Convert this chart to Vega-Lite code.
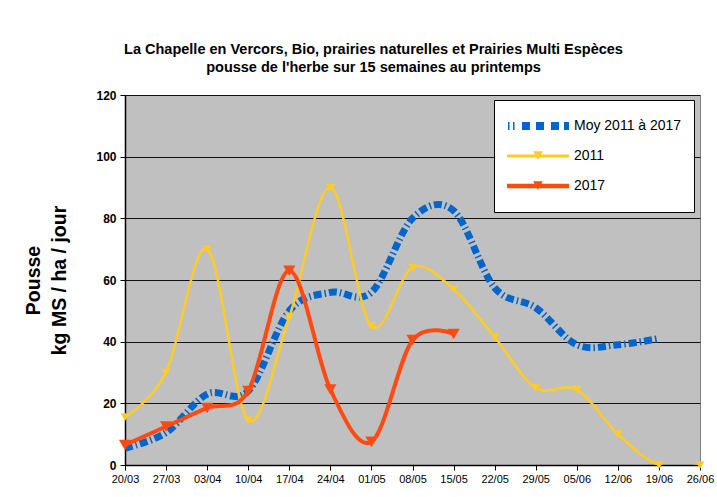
{
  "$schema": "https://vega.github.io/schema/vega-lite/v6.json",
  "width": 575,
  "height": 370,
  "autosize": {"type": "none"},
  "padding": {"left": 125, "top": 95, "right": 17, "bottom": 32},
  "background": "white",
  "title": {
    "text": ["La Chapelle en Vercors, Bio, prairies naturelles et Prairies Multi Espèces", "pousse de l'herbe sur 15 semaines au printemps"],
    "font": "Liberation Sans",
    "fontSize": 14.5,
    "fontWeight": "bold",
    "lineHeight": 18,
    "anchor": "middle",
    "dx": -39,
    "offset": 14,
    "color": "black"
  },
  "config": {
    "view": {"fill": "#C0C0C0", "stroke": "#808080", "strokeWidth": 1},
    "font": "Liberation Sans",
    "axis": {"domainColor": "black", "tickColor": "black", "labelColor": "black", "titleColor": "black"}
  },
  "data": {
    "values": [
      {"d": "20/03", "s": "Moy 2011 à 2017", "v": 5.5},
      {"d": "27/03", "s": "Moy 2011 à 2017", "v": 10.5},
      {"d": "03/04", "s": "Moy 2011 à 2017", "v": 23},
      {"d": "10/04", "s": "Moy 2011 à 2017", "v": 24},
      {"d": "17/04", "s": "Moy 2011 à 2017", "v": 50},
      {"d": "24/04", "s": "Moy 2011 à 2017", "v": 56},
      {"d": "01/05", "s": "Moy 2011 à 2017", "v": 56},
      {"d": "08/05", "s": "Moy 2011 à 2017", "v": 80},
      {"d": "15/05", "s": "Moy 2011 à 2017", "v": 82.5},
      {"d": "22/05", "s": "Moy 2011 à 2017", "v": 57.5},
      {"d": "29/05", "s": "Moy 2011 à 2017", "v": 51},
      {"d": "05/06", "s": "Moy 2011 à 2017", "v": 39},
      {"d": "12/06", "s": "Moy 2011 à 2017", "v": 39},
      {"d": "19/06", "s": "Moy 2011 à 2017", "v": 41},
      {"d": "20/03", "s": "2011", "v": 15.5},
      {"d": "27/03", "s": "2011", "v": 30},
      {"d": "03/04", "s": "2011", "v": 70},
      {"d": "10/04", "s": "2011", "v": 14.5},
      {"d": "17/04", "s": "2011", "v": 48},
      {"d": "24/04", "s": "2011", "v": 90},
      {"d": "01/05", "s": "2011", "v": 45},
      {"d": "08/05", "s": "2011", "v": 64},
      {"d": "15/05", "s": "2011", "v": 57},
      {"d": "22/05", "s": "2011", "v": 41.5},
      {"d": "29/05", "s": "2011", "v": 25},
      {"d": "05/06", "s": "2011", "v": 24.5},
      {"d": "12/06", "s": "2011", "v": 10},
      {"d": "19/06", "s": "2011", "v": 0},
      {"d": "26/06", "s": "2011", "v": 0},
      {"d": "20/03", "s": "2017", "v": 6.5},
      {"d": "27/03", "s": "2017", "v": 12.5},
      {"d": "03/04", "s": "2017", "v": 18.5},
      {"d": "10/04", "s": "2017", "v": 24},
      {"d": "17/04", "s": "2017", "v": 63},
      {"d": "24/04", "s": "2017", "v": 24.5},
      {"d": "01/05", "s": "2017", "v": 7.5},
      {"d": "08/05", "s": "2017", "v": 40.5},
      {"d": "15/05", "s": "2017", "v": 42.5}
    ]
  },
  "encoding": {
    "x": {
      "field": "d", "type": "ordinal",
      "scale": {"type": "point", "padding": 0, "domain": ["20/03","27/03","03/04","10/04","17/04","24/04","01/05","08/05","15/05","22/05","29/05","05/06","12/06","19/06","26/06"]},
      "axis": {"title": null, "labelAngle": 0, "labelFontSize": 11, "labelPadding": 3, "tickSize": 5, "grid": false, "domainWidth": 1.5}
    },
    "y": {
      "field": "v", "type": "quantitative",
      "scale": {"domain": [0, 120], "nice": false},
      "axis": {
        "title": ["Pousse", "kg MS / ha / jour"],
        "titleFontSize": 19.5, "titleFontWeight": "bold", "titleLineHeight": 26, "titlePadding": 26,
        "values": [0, 20, 40, 60, 80, 100, 120],
        "labelFontSize": 12, "labelFontWeight": "bold", "labelPadding": 4, "tickSize": 5,
        "grid": true, "gridColor": "#111111", "gridWidth": 1, "domainWidth": 1.5
      }
    },
    "color": {
      "field": "s", "type": "nominal",
      "scale": {"domain": ["Moy 2011 à 2017", "2011", "2017"], "range": ["#0066CC", "#FFCC22", "#FF4A12"]},
      "legend": {
        "title": " ", "titleFontSize": 1, "titlePadding": 6,
        "orient": "none", "legendX": 369, "legendY": 5,
        "strokeColor": "black", "fillColor": "white",
        "padding": 12, "rowPadding": 2,
        "labelFontSize": 14, "labelColor": "black", "labelFont": "Liberation Sans",
        "symbolSize": 144, "labelOffset": 54,
        "symbolStrokeWidth": 0, "symbolStrokeColor": "transparent", "symbolDash": [],
        "encode": {
          "symbols": {
            "update": {
              "shape": {"signal": "datum.value === '2011' ? 'M0,-2.17M0,2.17M-1,-0.25H9.33V0.25H-1Z M3.37,-0.8H4.97L4.17,0.65Z' : datum.value === '2017' ? 'M0,-2.17M0,2.17M-1,-0.37H9.33V0.37H-1Z M3.37,-0.8H4.97L4.17,0.65Z' : 'M0,-2.17M0,2.17M-0.83,-0.67H-0.58V0.67H-0.83Z M0,-0.67H0.25V0.67H0Z M1.5,-0.67H2.83V0.67H1.5Z M3.83,-0.67H5.17V0.67H3.83Z M6.33,-0.67H7.67V0.67H6.33Z M8.5,-0.67H9.33V0.67H8.5Z'"},
              "fill": {"signal": "datum.value === '2011' ? '#FFCC22' : datum.value === '2017' ? '#FF4A12' : '#0066CC'"},
              "stroke": {"value": "transparent"},
              "strokeWidth": {"value": 0},
              "opacity": {"value": 1}
            }
          }
        }
      }
    }
  },
  "layer": [
    {
      "transform": [{"filter": "datum.s === 'Moy 2011 à 2017'"}],
      "mark": {"type": "line", "interpolate": "cardinal", "tension": 0, "strokeCap": "butt", "strokeWidth": 7, "strokeDash": [8, 3, 1.5, 3], "clip": true}
    },
    {
      "transform": [{"filter": "datum.s === '2011'"}],
      "mark": {"type": "line", "interpolate": "cardinal", "tension": 0, "strokeWidth": 2.5, "clip": true}
    },
    {
      "transform": [{"filter": "datum.s === '2017'"}],
      "mark": {"type": "line", "interpolate": "cardinal", "tension": 0, "strokeWidth": 4, "clip": true}
    },
    {
      "transform": [{"filter": "datum.s === '2011'"}],
      "mark": {"type": "point", "shape": "triangle-down", "filled": true, "opacity": 1, "size": 80}
    },
    {
      "transform": [{"filter": "datum.s === '2017'"}],
      "mark": {"type": "point", "shape": "triangle-down", "filled": true, "opacity": 1, "size": 150}
    }
  ]
}
